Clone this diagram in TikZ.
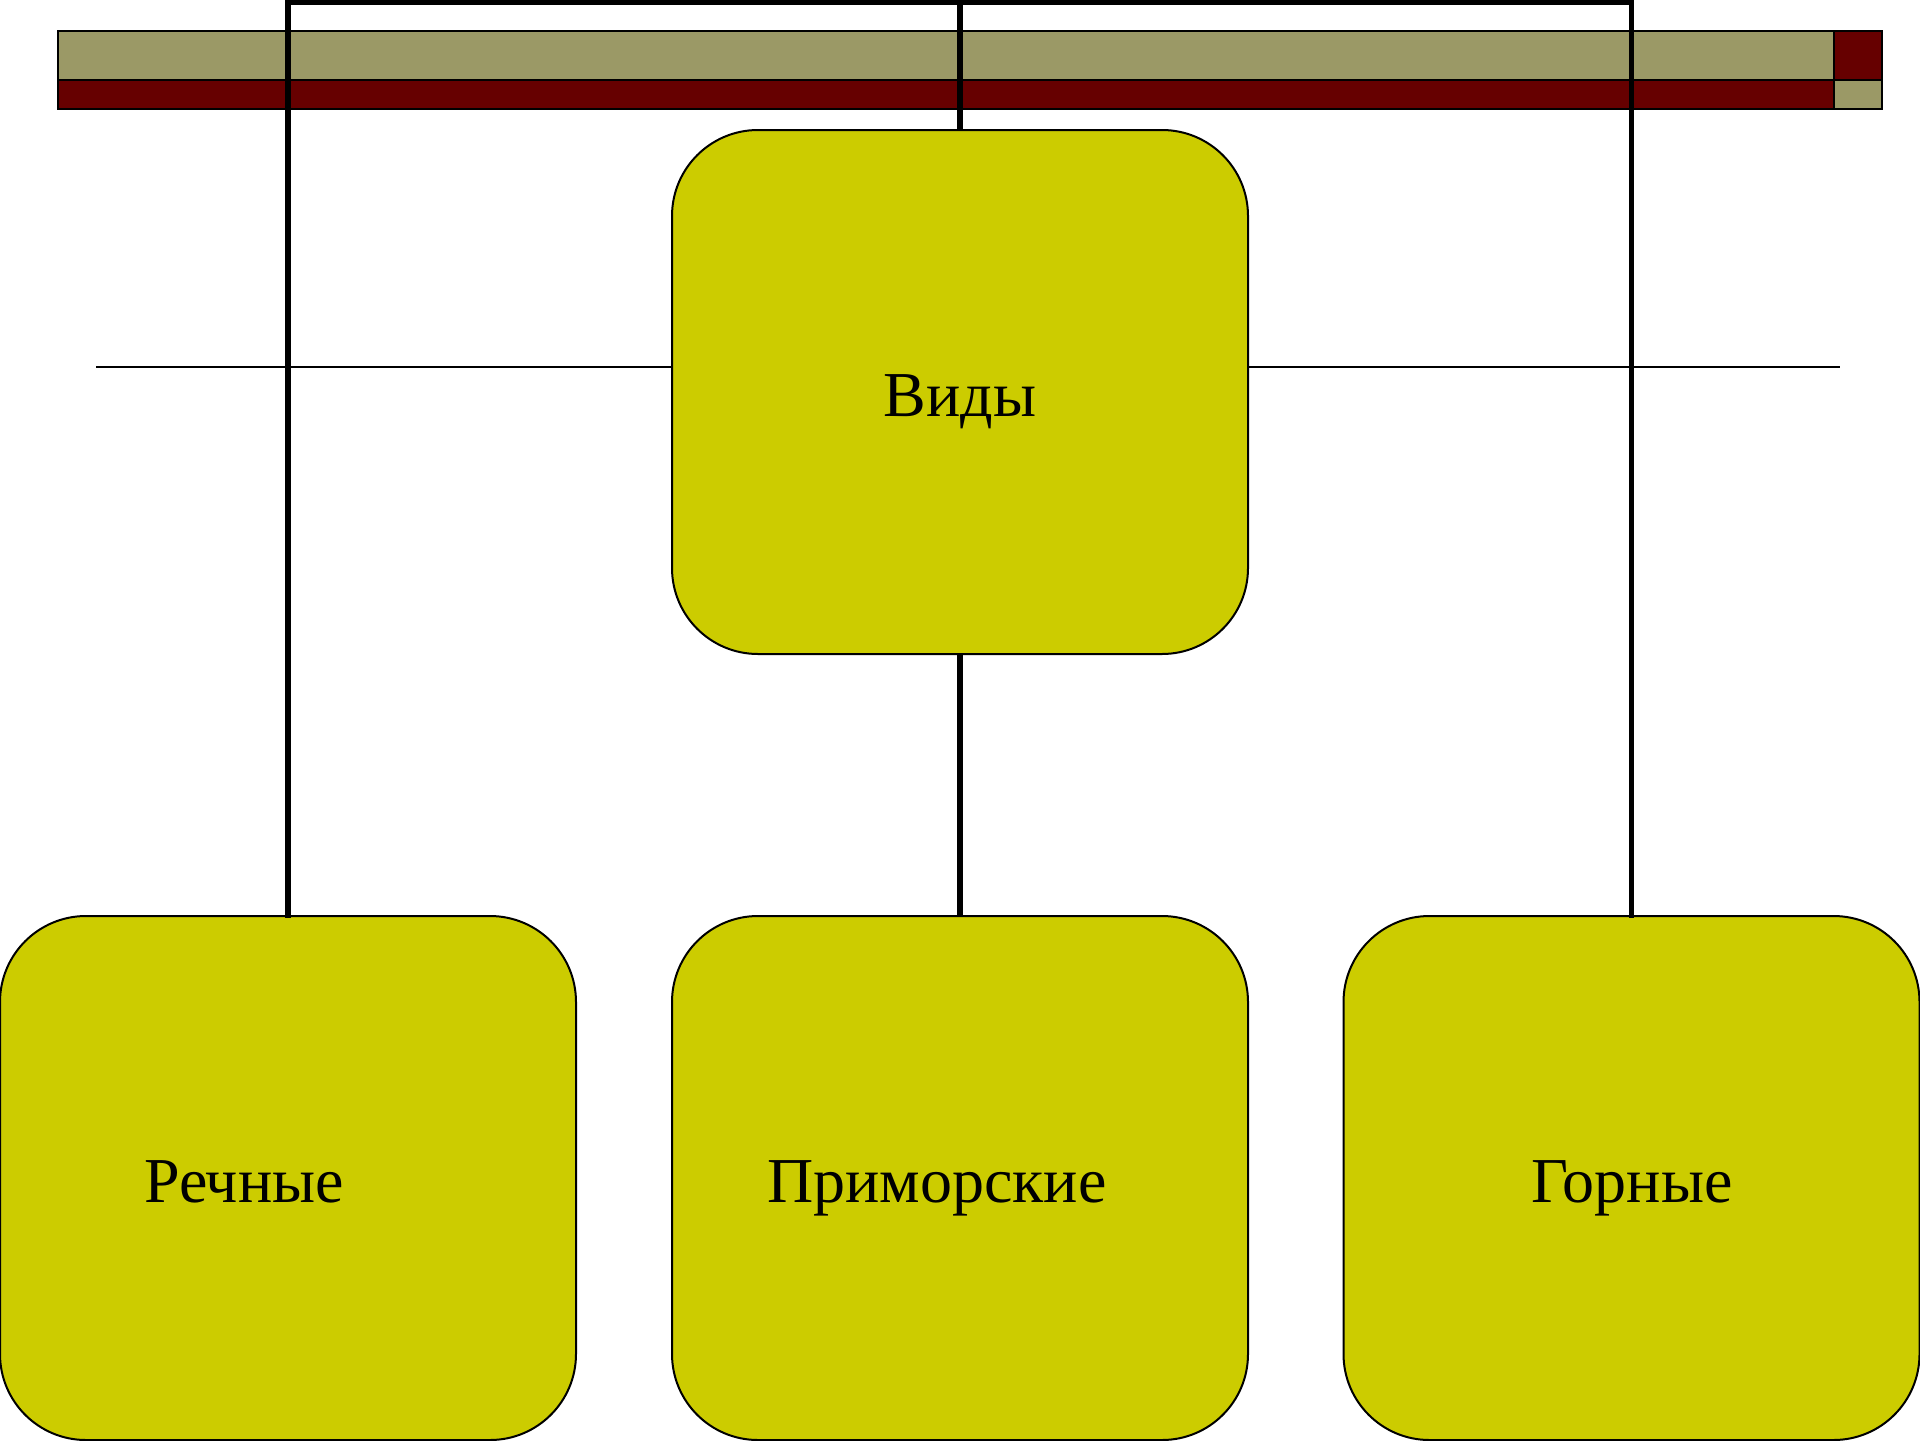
\documentclass[tikz,border=0pt]{standalone}
\usepackage{fontspec}
\setmainfont{Liberation Serif}
\definecolor{olivebar}{RGB}{155,153,102}
\definecolor{darkredbar}{RGB}{102,0,0}
\definecolor{boxfill}{RGB}{204,204,0}
\begin{document}
\begin{tikzpicture}[x=0.5pt,y=-0.5pt,
  barcell/.style={draw=black,line width=1pt},
  card/.style={draw=black,fill=boxfill,line width=1pt,rounded corners=43pt,
    rectangle,inner sep=0pt,minimum width=288pt,minimum height=262pt},
  conn/.style={draw=black,line width=2.6pt},
  label/.style={font=\fontsize{32}{38}\selectfont,inner sep=0pt,anchor=base}]
\useasboundingbox (0,0) rectangle (1920,1440);
% top bar
\fill[olivebar] (58,31) rectangle (1834,80);
\fill[darkredbar] (58,80) rectangle (1834,109);
\fill[darkredbar] (1834,31) rectangle (1882,80);
\fill[olivebar] (1834,80) rectangle (1882,109);
\draw[barcell] (58,31) rectangle (1834,80);
\draw[barcell] (58,80) rectangle (1834,109);
\draw[barcell] (1834,31) rectangle (1882,80);
\draw[barcell] (1834,80) rectangle (1882,109);
% thin horizontal line
\coordinate (hl) at (96,367);
\coordinate (hr) at (1840,367);
\draw[black,line width=1.1pt] (hl) -- (hr);
% boxes
\node[card] (vidybox) at (960,392) {};
\node[card] (rechbox) at (288,1178) {};
\node[card] (primbox) at (960,1178) {};
\node[card] (gornbox) at (1631.5,1178) {};
\coordinate (tl) at (288,2);
\coordinate (tm) at (960,2);
\coordinate (tr) at (1631.5,2);
% connectors
\draw[conn,line cap=rect] (rechbox.north) -- (tl) -- (tr) -- (gornbox.north);
\draw[conn] (tm) -- (vidybox.north);
\draw[conn] (vidybox.south) -- (primbox.north);
% labels
\node[label] (vidy) at (960,416) {Виды};
\node[label] (rech) at (244,1202) {Речные};
\node[label] (prim) at (937,1202) {Приморские};
\node[label] (gorn) at (1632,1202) {Горные};
\end{tikzpicture}
\end{document}
